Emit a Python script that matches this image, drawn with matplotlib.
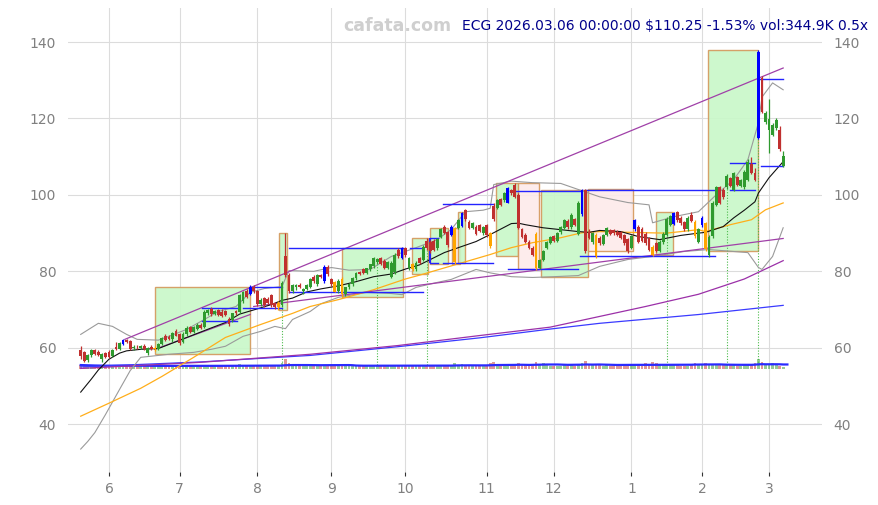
import matplotlib
matplotlib.use("Agg")
import matplotlib.pyplot as plt
from matplotlib.patches import Rectangle
import numpy as np
import pandas as pd

# ---------------- data ----------------
opens = [59.5,58.8,56.8,58.0,59.4,58.8,57.0,58.6,59.0,57.8,
         60.2,59.8,61.0,62.0,61.8,60.0,60.3,60.0,60.5,58.6,
         60.1,59.6,59.8,61.0,63.2,62.9,62.2,64.3,63.5,61.5,
         63.6,65.4,64.2,65.0,66.0,65.4,69.2,70.2,68.8,69.8,
         69.4,69.6,67.5,67.2,69.6,69.3,72.2,74.8,74.0,76.0,
         74.8,71.4,73.0,72.8,73.8,71.6,70.6,71.2,84.0,79.0,
         74.8,75.8,76.5,74.8,75.4,76.0,78.6,76.6,79.0,77.4,
         81.2,77.9,77.3,74.8,78.0,74.0,75.8,76.6,78.2,79.8,
         80.5,79.6,80.6,81.4,82.4,83.4,82.6,81.0,78.6,79.7,
         85.7,83.6,86.0,80.8,81.8,80.6,83.4,83.0,88.0,87.6,
         88.0,86.0,89.0,91.7,90.2,89.6,82.5,91.4,91.8,96.0,
         93.0,91.4,91.6,92.0,90.0,92.0,90.0,97.0,96.6,98.8,
         98.6,98.0,101.2,102.7,100.0,91.0,89.6,87.8,86.2,89.8,
         81.0,83.0,86.2,87.5,89.2,88.0,90.2,91.4,93.2,91.6,
         93.6,89.8,95.0,101.2,90.4,87.6,89.6,88.8,87.2,89.6,
         90.8,90.8,90.4,90.2,89.4,88.4,86.2,91.0,91.6,91.2,
         89.8,88.6,86.4,87.4,85.4,87.6,89.6,92.2,92.4,95.4,
         94.0,92.8,91.0,94.8,93.0,87.8,92.0,92.6,84.2,89.2,
         97.4,102.0,101.4,102.0,104.4,101.4,104.6,102.4,102.0,104.0,
         108.0,105.8,115.0,130.6,119.0,117.0,115.7,117.5,117.0,107.6]
highs = [60.5,59.2,58.5,59.8,59.6,59.3,58.6,58.9,59.4,59.8,
         61.6,61.4,62.3,62.4,62.0,60.6,60.8,60.6,60.9,60.2,
         60.6,60.4,61.2,62.8,63.6,63.3,64.0,64.8,63.8,64.0,
         65.6,65.8,65.6,66.4,66.5,69.8,70.2,70.6,70.0,70.2,
         70.1,70.0,68.0,69.2,70.0,74.2,74.8,75.3,76.4,76.4,
         75.2,73.0,73.4,73.2,74.2,72.0,72.2,77.4,90.0,79.6,
         76.8,76.8,77.0,75.6,76.6,78.2,79.0,79.4,79.4,81.6,
         81.6,78.3,77.6,77.9,78.4,76.0,77.0,78.5,79.8,80.2,
         81.0,81.0,82.0,83.8,83.6,83.8,83.2,82.8,82.6,84.8,
         86.2,86.4,86.4,83.8,82.2,82.6,83.8,86.8,88.6,88.2,
         88.4,88.8,91.4,92.0,90.6,92.0,91.6,93.8,95.6,96.4,
         93.4,93.0,92.0,92.4,91.8,92.4,90.4,97.8,98.9,99.2,
         100.8,102.0,101.6,103.2,100.4,91.4,90.0,88.2,86.6,90.2,
         83.2,85.6,88.0,89.2,89.6,90.4,91.8,93.6,93.6,95.2,
         94.0,98.4,101.6,101.6,91.0,90.4,90.0,89.2,89.8,91.6,
         91.2,91.2,90.8,90.6,89.8,88.8,89.6,93.8,92.0,91.6,
         90.2,89.0,86.8,87.8,88.2,90.2,94.2,94.8,95.6,95.8,
         94.4,93.2,94.4,95.4,93.4,91.4,94.4,93.0,89.4,98.4,
         102.4,102.4,101.8,105.4,104.8,106.0,105.0,104.2,106.4,109.4,
         110.0,107.0,138.0,131.0,122.0,125.0,118.8,120.0,118.0,111.4]
lows = [57.0,56.2,56.4,57.5,58.2,57.8,56.3,57.2,57.2,57.5,
        59.4,59.5,60.8,61.2,59.5,59.4,59.8,59.6,59.4,58.2,
        59.3,59.2,59.5,60.8,61.8,62.0,61.6,63.0,60.6,61.2,
        63.2,63.8,63.9,64.6,64.8,65.2,68.6,68.4,68.5,68.2,
        68.0,68.2,65.6,66.8,68.6,69.0,71.8,73.0,73.8,74.4,
        71.0,71.0,70.8,71.4,70.8,70.2,69.8,70.8,78.6,74.4,
        74.4,75.2,75.6,74.2,75.0,75.6,77.0,76.2,78.2,77.0,
        78.8,76.2,74.5,74.4,73.4,73.6,75.4,76.2,77.8,79.0,
        79.2,79.2,80.2,81.0,82.0,81.6,80.6,80.6,78.2,79.4,
        83.6,83.3,83.8,80.4,80.2,80.2,81.8,82.6,85.6,84.8,
        85.2,85.6,88.6,89.8,86.4,89.2,82.0,91.0,91.5,93.2,
        91.0,91.0,89.4,90.2,89.6,89.0,86.2,93.2,96.2,97.0,
        98.2,97.8,100.0,99.2,91.0,88.6,87.4,85.8,84.0,80.4,
        80.6,82.6,85.8,87.2,87.6,87.6,89.8,91.0,91.2,91.2,
        91.8,89.4,94.4,84.8,88.4,87.2,83.6,87.0,86.8,89.2,
        89.4,89.6,89.2,88.4,87.0,84.8,85.8,90.6,87.4,87.6,
        87.0,85.2,84.0,85.0,85.0,87.2,89.2,91.8,92.0,93.0,
        92.2,90.6,90.6,92.8,88.8,87.4,91.6,85.4,83.8,88.8,
        97.0,97.6,99.0,101.6,102.0,101.0,102.2,102.0,101.6,103.6,
        105.4,103.6,114.6,121.3,118.6,111.0,115.3,117.0,111.6,107.2]
closes = [57.8,56.6,58.2,59.4,58.5,58.2,58.3,57.6,57.6,59.5,
          59.8,61.2,62.0,61.5,59.8,60.3,60.1,60.4,59.8,59.9,
          59.6,60.0,61.0,62.6,62.0,62.2,63.8,63.2,61.2,63.6,
          65.2,64.2,65.4,66.0,65.2,69.4,69.9,68.8,69.7,68.6,
          68.3,68.5,66.1,69.0,69.0,73.8,74.5,73.4,76.0,74.8,
          71.4,72.6,71.2,71.8,71.2,70.6,71.8,77.0,79.0,74.8,
          76.4,76.5,75.9,75.3,76.3,78.0,77.4,79.0,78.6,81.2,
          79.2,76.6,74.7,77.6,74.0,75.8,76.8,78.3,79.5,79.3,
          79.6,80.8,81.8,83.6,83.3,82.0,81.0,82.5,82.3,84.4,
          83.9,86.0,84.2,83.4,80.6,82.3,82.2,86.4,86.0,85.2,
          85.6,88.4,91.0,90.1,86.8,91.7,91.2,93.5,95.3,93.6,
          91.4,92.6,89.8,90.6,91.5,89.4,86.6,93.6,98.6,97.4,
          100.5,101.8,100.4,99.5,91.4,89.0,87.8,86.2,84.4,80.8,
          83.0,85.2,87.8,89.0,88.0,90.0,91.5,93.4,91.6,94.8,
          92.2,98.0,101.3,85.2,88.8,90.0,84.0,87.4,89.4,91.4,
          89.8,90.0,89.6,88.8,87.4,85.2,89.2,93.5,87.8,88.0,
          87.4,85.6,84.4,85.4,87.8,89.8,93.8,94.4,95.3,93.4,
          92.6,91.0,94.0,93.2,89.2,91.0,94.0,85.8,89.0,98.0,
          102.0,98.0,99.4,105.0,102.4,105.7,102.6,103.8,106.0,108.7,
          105.8,104.0,137.5,121.7,121.5,119.8,118.3,119.6,111.96,110.25]
volumes = [820,760,690,640,700,610,580,660,720,650,700,640,880,610,700,560,540,590,620,600,
           570,540,620,700,680,600,650,640,720,630,700,620,600,650,600,820,700,640,600,620,
           600,580,700,640,620,950,760,700,880,690,760,600,620,580,640,600,610,1300,2100,1200,
           800,700,640,620,600,700,620,680,600,900,720,680,700,640,820,640,620,680,700,600,
           640,620,660,740,640,650,620,600,720,760,680,860,650,700,640,600,620,760,720,660,
           640,680,740,620,760,900,1300,820,960,760,700,620,680,640,600,700,1300,1500,880,720,
           760,960,700,820,1300,900,760,700,1150,1400,900,1200,800,700,650,700,720,760,680,800,
           700,1100,1300,1600,900,760,1100,800,720,760,700,640,680,700,720,880,760,900,760,720,
           1200,800,1400,1300,1100,900,1000,820,900,760,700,680,720,760,1300,900,900,1200,900,1100,
           1000,800,760,880,760,900,720,700,760,880,760,1300,2200,1400,900,1000,1300,800,700,344.9]
blue_bars = [12, 48, 69, 91, 105, 108, 121, 142, 157, 168, 176, 192]
orange_bars = [21, 56, 72, 74, 94, 106, 116, 129, 146, 162, 174, 177]

holidays = ["2025-05-26", "2025-06-19", "2025-07-04", "2025-09-01", "2025-11-27",
            "2025-12-25", "2026-01-01", "2026-01-19", "2026-02-16"]

# indicator lines (bar index, price)
fast_x = [0,3,5,8,11,13,17,22,27,32,37,41,45,49,54,57,60,64,68,73,78,83,88,92,96,103,107,112,117,122,
          124,126,131,136,141,144,147,153,158,164,170,175,177,182,185,188,191,192,195,199]
fast_y = [48.4,51.8,54.2,57.0,58.6,59.2,59.6,59.8,61.6,63.4,65.2,66.6,68.8,69.9,71.3,72.4,73.0,74.6,75.4,76.2,
          77.3,78.6,79.3,80.6,81.7,84.9,86.2,87.8,90.1,92.5,92.6,92.2,91.4,90.9,90.4,90.2,90.7,90.4,89.1,88.3,
          89.4,90.0,90.2,91.7,94.0,96.0,98.2,100.5,104.5,108.7]
slow_x = [0,8,17,23,32,41,51,60,65,73,83,92,96,116,122,128,136,142,147,160,166,175,177,184,190,194,199]
slow_y = [42.1,45.5,49.4,52.5,57.5,62.7,66.1,69.0,70.8,72.6,75.2,78.0,79.0,84.4,86.2,87.5,88.8,90.1,90.4,90.1,
          90.0,90.9,90.4,92.2,93.5,96.1,97.9]
bbu_x = [0,5,9,13,16,22,25,30,35,39,44,48,52,57,59,66,71,76,82,88,95,101,105,109,114,116,117,122,128,136,
         141,147,155,161,162,168,175,180,185,189,192,193,196,199]
bbu_y = [63.5,66.4,65.6,63.5,62.2,62.0,63.0,64.8,67.4,69.5,70.8,74.5,75.5,76.0,80.2,80.0,81.0,80.3,80.5,83.9,
         86.2,88.3,91.0,95.6,96.0,96.5,102.7,103.6,103.2,103.0,101.4,99.5,98.0,97.4,92.7,94.3,95.6,100.0,104.0,109.2,
         118.9,125.6,129.3,127.5]
bbl_x = [0,2,4,7,11,14,17,25,32,37,41,46,51,55,58,60,65,68,73,81,88,91,95,101,105,112,116,122,128,134,
         141,147,155,162,171,178,189,192,193,196,199]
bbl_y = [33.5,35.5,37.8,42.5,49.1,54.0,57.5,58.3,58.8,59.6,60.4,63.0,64.3,65.6,65.0,67.4,69.5,71.5,73.2,74.5,
         74.2,73.9,75.8,77.1,77.9,80.5,79.6,78.6,78.4,78.6,78.9,81.3,83.1,83.9,85.2,85.7,84.9,81.0,80.5,83.9,91.4]
mid_x = [0,34,65,90,113,133,147,160,175,188,199]
mid_y = [54.6,56.2,58.3,60.6,63.2,65.4,68.2,70.8,74.0,78.0,82.8]
long_x = [0,34,65,90,113,133,147,175,199]
long_y = [55.0,56.3,58.0,60.3,62.6,64.9,66.4,68.7,71.1]

# trend lines
tl_x0 = [12.5, 49, 21]
tl_y0 = [62.2, 70.8, 59.6]
tl_x1 = [199, 199, 48]
tl_y1 = [133.2, 88.6, 68.7]

# horizontal levels
lv_x0 = [34.3, 34.3, 46, 48, 59, 59, 93.3, 99, 99, 102.6, 102.6, 121.6, 121, 142.8, 141.4, 184, 184, 191.9, 192.7]
lv_x1 = [44.3, 44.3, 57, 57, 91.3, 97, 97, 101.2, 101.2, 116.8, 116.8, 141.4, 140.9, 179.7, 179.7, 191, 191, 199, 199]
lv_y = [70.3, 66.9, 70.3, 76.0, 86.2, 74.5, 86.0, 82.3, 88.6, 97.7, 82.3, 101.1, 80.7, 101.4, 83.9, 108.4, 101.4, 130.3, 107.6]

# zones
bx_x0 = [21.0, 56.1, 74.0, 93.8, 98.9, 105.1, 106.8, 117.6, 123.8, 130.5, 143.8, 163.0, 177.7]
bx_x1 = [47.9, 58.4, 91.3, 98.3, 104.0, 107.4, 108.8, 123.8, 129.8, 143.8, 156.5, 167.8, 191.9]
bx_lo = [58.3, 69.8, 73.4, 79.4, 82.0, 81.8, 82.3, 83.9, 80.5, 78.4, 85.2, 84.4, 85.2]
bx_hi = [76.0, 90.1, 86.2, 88.6, 91.4, 91.4, 95.4, 103.2, 103.2, 101.4, 101.6, 95.4, 137.9]
bx_kind = ['up', 'up', 'up', 'up', 'up', 'down', 'up', 'up', 'down', 'up', 'down', 'up', 'up']

signal_bars = [57, 84, 98, 166, 183, 192]

title_text = "ECG 2026.03.06 00:00:00 $110.25 -1.53% vol:344.9K 0.5x"

# ---------------- figure ----------------
n = len(closes)
dates = pd.bdate_range("2025-05-20", "2026-03-06")
dates = dates[~dates.isin(pd.to_datetime(holidays))][:n]

W, H = 879, 505
fig = plt.figure(figsize=(W / 100, H / 100), dpi=100)
ax = fig.add_axes([68 / W, 33 / H, 754 / W, 464 / H])

x = np.arange(n)
o = np.array(opens); h = np.array(highs); l = np.array(lows); c = np.array(closes)

GREEN = "#2f9a2f"
RED = "#c0302f"
BLUE = "#0000ff"
ORANGE = "#ffa500"
cols = []
for i in range(n):
    if i in blue_bars:
        cols.append(BLUE)
    elif i in orange_bars:
        cols.append(ORANGE)
    elif c[i] >= o[i]:
        cols.append(GREEN)
    else:
        cols.append(RED)

# zones
for x0, x1, lo, hi, k in zip(bx_x0, bx_x1, bx_lo, bx_hi, bx_kind):
    fc = "#c8f8c8" if k == "up" else "#fdeaea"
    ax.add_patch(Rectangle((x0, lo), x1 - x0, hi - lo, facecolor=fc, edgecolor="#d4975a",
                           linewidth=1.0, alpha=0.9, zorder=1))

# volume band
vscale = 0.0012
vbase = 54.5
vol = np.array(volumes)
vcols = [GREEN if c[i] >= o[i] else RED for i in range(n)]
ax.bar(x, vol * vscale, bottom=vbase, width=0.8, color=vcols, alpha=0.5, linewidth=0, zorder=2)
vma = pd.Series(vol).rolling(20, min_periods=1).mean().values * vscale + vbase
ax.plot(np.append(x, n + 0.2), np.append(vma, vma[-1]), color="#2a2aff", lw=1.6, zorder=3)

# signal verticals
for i in signal_bars:
    ax.vlines(i, vbase + 0.9, l[i], colors="#4cbb4c", linestyles=(0, (1, 1.5)), lw=0.8, zorder=2)

# indicator lines
ax.plot(long_x, long_y, color="#3a3aff", lw=0.9, zorder=3)
ax.plot(mid_x, mid_y, color="#9b30a8", lw=0.9, zorder=3)
ax.plot(bbu_x, bbu_y, color="#9a9a9a", lw=0.8, zorder=3)
ax.plot(bbl_x, bbl_y, color="#9a9a9a", lw=0.8, zorder=3)
ax.plot(slow_x, slow_y, color="#ffae1a", lw=0.9, zorder=3)
ax.plot(fast_x, fast_y, color="#111111", lw=0.8, zorder=4)

for x0, y0, x1, y1 in zip(tl_x0, tl_y0, tl_x1, tl_y1):
    ax.plot([x0, x1], [y0, y1], color="#a040a8", lw=0.9, zorder=3)

for x0, x1, y in zip(lv_x0, lv_x1, lv_y):
    ax.plot([x0, x1], [y, y], color="#2323ff", lw=1.0, zorder=4)
ax.vlines(99, 82.3, 88.6, colors="#2323ff", lw=1.5, zorder=4)

# candles
ax.vlines(x, l, h, colors=cols, lw=0.9, zorder=5)
body_lo = np.minimum(o, c)
body_h = np.maximum(np.abs(c - o), 0.2)
ax.bar(x, body_h, bottom=body_lo, width=0.8, color=cols, linewidth=0, zorder=6)

# axes styling
ax.set_xlim(-3.6, 210)
ax.set_ylim(27.5, 148.9)
ticks, labels = [], []
for i in range(1, n):
    if dates[i].month != dates[i - 1].month:
        ticks.append(i)
        labels.append(str(dates[i].month))
ax.set_xticks(ticks)
ax.set_xticklabels(labels)
ax.set_yticks([40, 60, 80, 100, 120, 140])
for s in ax.spines.values():
    s.set_visible(False)
ax.grid(True, color="#dcdcdc", lw=0.8, zorder=0)
ax.set_axisbelow(True)
ax.tick_params(axis="y", left=False, right=False, labelleft=True, labelright=True,
               labelcolor="#808080", labelsize=10, pad=5)
ax.tick_params(axis="x", length=3, width=0.8, color="#333333", labelcolor="#808080",
               labelsize=10, pad=4)

fig.text(868 / W, 1 - 26 / H, title_text, ha="right", va="center", color="#00008b", fontsize=10)
fig.text(397 / W, 1 - 26 / H, "cafata.com", ha="center", va="center", color="#cfcfcf",
         fontsize=12.5, fontweight="bold")

fig.savefig("out.png", dpi=100)
